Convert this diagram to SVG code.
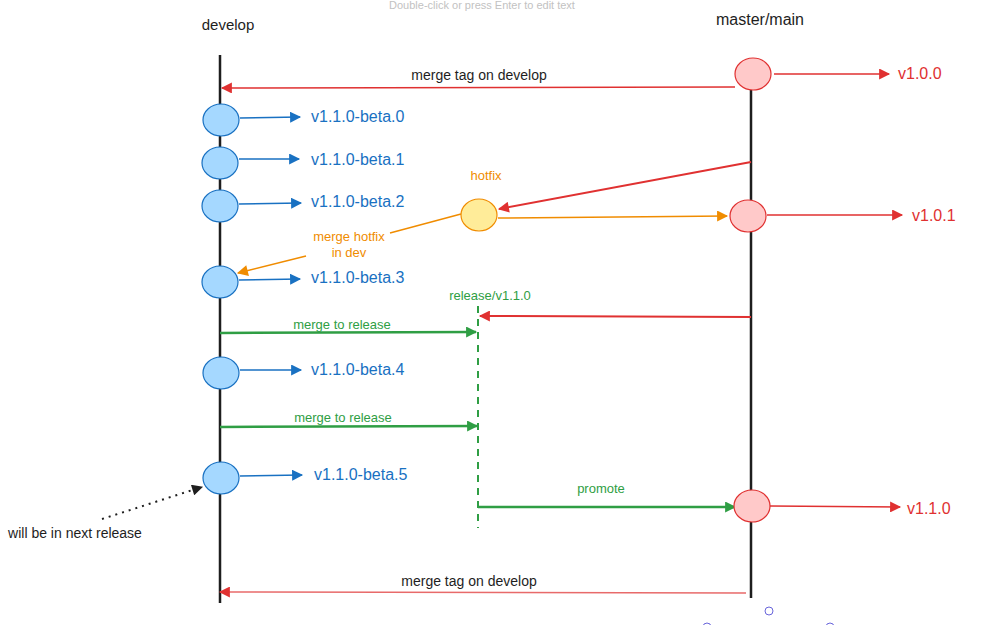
<svg xmlns="http://www.w3.org/2000/svg" width="984" height="625" viewBox="0 0 984 625">
<style>
text{font-family:"Liberation Sans","DejaVu Sans",sans-serif;text-anchor:middle}
.lane{stroke:#1e1e1e;stroke-width:2.5;fill:none}
.blue{fill:#a5d8ff;stroke:#1971c2;stroke-width:1.2}
.red{fill:#ffc9c9;stroke:#e03131;stroke-width:1.2}
.yel{fill:#ffec99;stroke:#f08c00;stroke-width:1.2}
.lr{stroke:#e03131;stroke-width:1.6;fill:none;marker-end:url(#ar)}
.lrs{stroke:#e03131;stroke-width:2;fill:none;marker-end:url(#ar)}
.lb{stroke:#1971c2;stroke-width:1.6;fill:none;marker-end:url(#ab)}
.lg{stroke:#2f9e44;stroke-width:2.5;fill:none;marker-end:url(#ag)}
.lo{stroke:#f08c00;stroke-width:1.5;fill:none}
.tb{fill:#1971c2;font-size:16px;text-anchor:start}
.tr{fill:#e03131;font-size:16px;text-anchor:start}
.tk{fill:#1e1e1e;font-size:13px}
.tg{fill:#2f9e44;font-size:13px}
.to{fill:#f08c00;font-size:13px}
</style>
<defs>
<marker id="ar" viewBox="0 0 10 10" refX="9" refY="5" markerWidth="12" markerHeight="11" markerUnits="userSpaceOnUse" orient="auto"><path d="M0,0 L10,5 L0,10 z" fill="#e03131"/></marker>
<marker id="ab" viewBox="0 0 10 10" refX="9" refY="5" markerWidth="12" markerHeight="11" markerUnits="userSpaceOnUse" orient="auto"><path d="M0,0 L10,5 L0,10 z" fill="#1971c2"/></marker>
<marker id="ag" viewBox="0 0 10 10" refX="9" refY="5" markerWidth="12" markerHeight="11" markerUnits="userSpaceOnUse" orient="auto"><path d="M0,0 L10,5 L0,10 z" fill="#2f9e44"/></marker>
<marker id="ao" viewBox="0 0 10 10" refX="9" refY="5" markerWidth="12" markerHeight="11" markerUnits="userSpaceOnUse" orient="auto"><path d="M0,0 L10,5 L0,10 z" fill="#f08c00"/></marker>
<marker id="ak" viewBox="0 0 10 10" refX="9" refY="5" markerWidth="12" markerHeight="11" markerUnits="userSpaceOnUse" orient="auto"><path d="M0,0 L10,5 L0,10 z" fill="#1e1e1e"/></marker>
</defs>
<rect width="984" height="625" fill="#ffffff"/>
<text x="482" y="9" style="fill:#c2c2c2;font-size:11px">Double-click or press Enter to edit text</text>

<g id="lanes">
<text x="228" y="30" class="tk" style="font-size:15px">develop</text>
<text x="760" y="25" class="tk" style="font-size:16px">master/main</text>
<line class="lane" x1="220" y1="55" x2="220" y2="603"/>
<line class="lane" x1="751" y1="90" x2="751" y2="598"/>
<line x1="478" y1="306" x2="478" y2="528" stroke="#2f9e44" stroke-width="2" stroke-dasharray="7,6"/>
<text x="490" y="300" class="tg">release/v1.1.0</text>
</g>

<g id="connectors">
<line class="lr" x1="774" y1="74" x2="889" y2="74"/>
<line class="lr" x1="735" y1="87" x2="222" y2="88"/>
<text x="479" y="80" class="tk" style="font-size:14px">merge tag on develop</text>
<line class="lb" x1="240" y1="118" x2="300" y2="117"/>
<line class="lb" x1="239" y1="159" x2="299" y2="159"/>
<line class="lb" x1="239" y1="204" x2="301" y2="203"/>
<line class="lb" x1="239" y1="280" x2="300" y2="279"/>
<line class="lb" x1="240" y1="370" x2="301" y2="370"/>
<line class="lb" x1="240" y1="476" x2="302" y2="475"/>
<line class="lrs" x1="751" y1="162" x2="499" y2="209"/>
<line class="lo" x1="498" y1="218" x2="727" y2="216" marker-end="url(#ao)"/>
<line class="lr" x1="767" y1="215" x2="902" y2="215"/>
<line class="lo" x1="461" y1="214" x2="390" y2="233"/>
<line class="lo" x1="306" y1="256" x2="238" y2="273" marker-end="url(#ao)"/>
<text x="349" y="241" class="to">merge hotfix</text>
<text x="349" y="257" class="to">in dev</text>
<line class="lrs" x1="751" y1="317" x2="480" y2="316"/>
<line class="lg" x1="220" y1="333" x2="476" y2="332"/>
<text x="342" y="329" class="tg">merge to release</text>
<line class="lg" x1="220" y1="427" x2="477" y2="426"/>
<text x="343" y="422" class="tg">merge to release</text>
<line class="lg" x1="478" y1="507" x2="735" y2="507"/>
<text x="601" y="493" class="tg">promote</text>
<line class="lr" x1="770" y1="506" x2="900" y2="507"/>
<line class="lr" x1="746" y1="593" x2="220" y2="592" style="stroke:#e86a6a"/>
<text x="469" y="586" class="tk" style="font-size:14px">merge tag on develop</text>
<line x1="102" y1="519" x2="202" y2="487" stroke="#1e1e1e" stroke-width="2" stroke-dasharray="2,5" marker-end="url(#ak)"/>
<text x="75" y="538" class="tk" style="font-size:14px">will be in next release</text>
</g>

<g id="m-v100"><ellipse class="red" cx="753" cy="74" rx="18" ry="16"/><text x="898" y="79" class="tr">v1.0.0</text></g>
<g id="m-v101"><ellipse class="red" cx="748" cy="216" rx="18" ry="16"/><text x="912" y="221" class="tr">v1.0.1</text></g>
<g id="m-v110"><ellipse class="red" cx="752" cy="506" rx="18" ry="16"/><text x="907" y="514" class="tr">v1.1.0</text></g>
<g id="hotfix"><ellipse class="yel" cx="479" cy="215" rx="18" ry="16"/><text x="486" y="180" class="to">hotfix</text></g>
<g id="beta0"><ellipse class="blue" cx="221" cy="120" rx="18" ry="16"/><text x="311" y="122" class="tb">v1.1.0-beta.0</text></g>
<g id="beta1"><ellipse class="blue" cx="220" cy="163" rx="18" ry="16"/><text x="311" y="165" class="tb">v1.1.0-beta.1</text></g>
<g id="beta2"><ellipse class="blue" cx="220" cy="206" rx="18" ry="16"/><text x="311" y="207" class="tb">v1.1.0-beta.2</text></g>
<g id="beta3"><ellipse class="blue" cx="220" cy="282" rx="18" ry="16"/><text x="311" y="283" class="tb">v1.1.0-beta.3</text></g>
<g id="beta4"><ellipse class="blue" cx="221" cy="373" rx="18" ry="16"/><text x="311" y="375" class="tb">v1.1.0-beta.4</text></g>
<g id="beta5"><ellipse class="blue" cx="221" cy="478" rx="18" ry="16"/><text x="314" y="480" class="tb">v1.1.0-beta.5</text></g>

<g id="handles" fill="none" stroke="#6965db" stroke-width="1">
<circle cx="769" cy="611" r="4"/>
<circle cx="707" cy="627" r="4"/>
<circle cx="830" cy="627" r="4"/>
</g>
</svg>
